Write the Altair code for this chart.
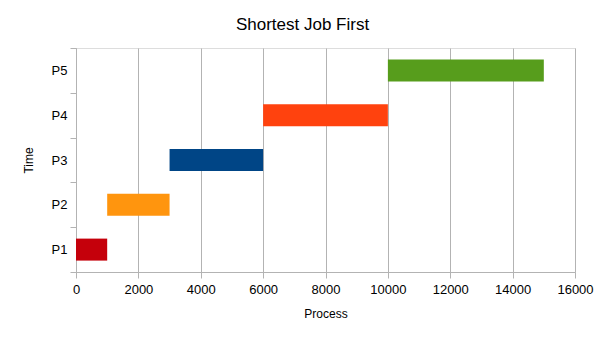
import altair as alt
import pandas as pd

processes = ["P1", "P2", "P3", "P4", "P5"]
starts = [0, 1000, 3000, 6000, 10000]
ends = [1000, 3000, 6000, 10000, 15000]
colors = ["#c5000b", "#ff950e", "#004586", "#ff420e", "#579d1c"]
x_ticks = list(range(0, 16001, 2000))

df = pd.DataFrame({"proc": processes, "start": starts, "end": ends})

FONT = "Liberation Sans"
GRID = "#b3b3b3"

chart = alt.Chart(df).mark_bar(size=22).encode(
    x=alt.X("start:Q",
            scale=alt.Scale(domain=[0, 16000], nice=False),
            axis=alt.Axis(values=x_ticks, format="d", title="Process", grid=True, gridColor=GRID,
                          domainColor=GRID, tickColor=GRID, tickSize=6,
                          labelFont=FONT, labelFontSize=13, labelColor="#000000",
                          labelPadding=5, titleFont=FONT, titleFontSize=12,
                          titleFontWeight="normal", titleColor="#000000",
                          titleY=41, titleBaseline="middle", labelFlush=False)),
    x2="end:Q",
    y=alt.Y("proc:N", sort=processes[::-1],
            scale=alt.Scale(paddingInner=0, paddingOuter=0),
            axis=alt.Axis(title="Time", grid=False, tickBand="extent",
                          domainColor=GRID, tickColor=GRID, tickSize=6,
                          labelFont=FONT, labelFontSize=13, labelColor="#000000",
                          labelPadding=3, titleFont=FONT, titleFontSize=12,
                          titleFontWeight="normal", titleColor="#000000",
                          titleX=-48, titleY=112, titleAngle=-90,
                          titleBaseline="middle")),
    color=alt.Color("proc:N", scale=alt.Scale(domain=processes, range=colors), legend=None),
).properties(
    width=499,
    height=224,
    title=alt.TitleParams("Shortest Job First", font=FONT, fontSize=17,
                          fontWeight="normal", color="#000000", dx=-23, offset=8),
    autosize=alt.AutoSizeParams(type="none"),
    padding={"left": 76, "top": 48, "right": 29, "bottom": 68},
).configure_view(stroke=GRID, strokeWidth=1).configure(background="white")

chart.save("out.html", embed_options={"renderer": "svg", "actions": False})
